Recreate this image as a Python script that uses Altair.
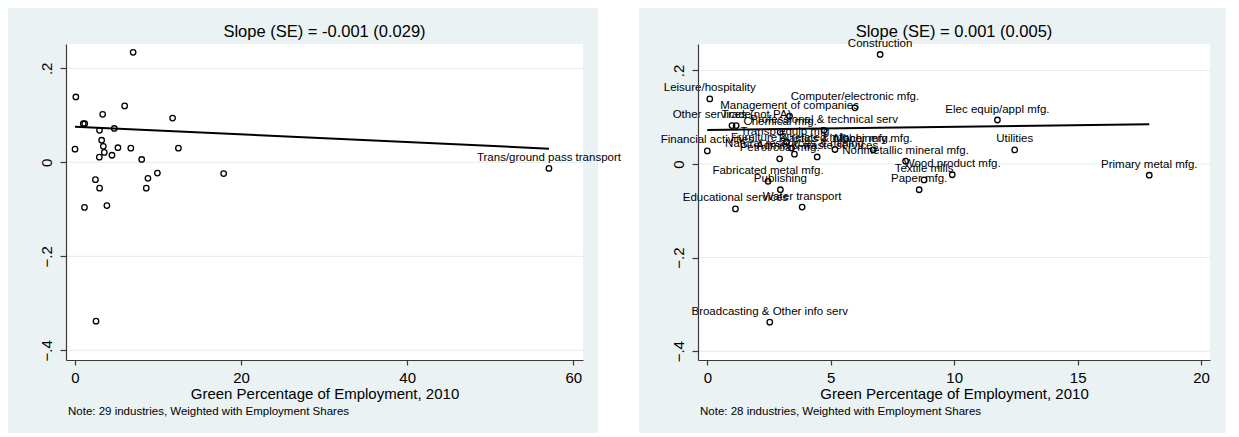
import altair as alt
import pandas as pd

# ---------------- data ----------------
industries = [
    "Construction", "Leisure/hospitality", "Computer/electronic mfg.",
    "Management of companies", "Elec equip/appl mfg.", "Other services (not PA)",
    "Trade", "Professional & technical serv", "Chemical mfg.", "Transp equip mfg.",
    "Furniture & related mfg.", "Financial activities", "Plastics & rubber mfg.",
    "Machinery mfg.", "Utilities", "Natural resources & mining",
    "Admin & waste services", "Petrol/coal mfg.", "Nonmetallic mineral mfg.",
    "Wood product mfg.", "Primary metal mfg.", "Textile mills",
    "Fabricated metal mfg.", "Publishing", "Paper mfg.", "Educational services",
    "Water transport", "Broadcasting & Other info serv",
    "Trans/ground pass transport",
]
green_pct = [
    7.0, 0.1, 5.98, 3.33, 11.75, 1.0, 1.17, 4.73, 2.95, 3.21,
    3.41, 0.0, 5.17, 6.72, 12.45, 3.53, 4.45, 2.93, 8.03, 9.92,
    17.9, 8.78, 2.46, 2.96, 8.58, 1.14, 3.84, 2.53, 57.07,
]
emp_change = [
    0.234, 0.139, 0.120, 0.102, 0.094, 0.082, 0.082, 0.072, 0.068, 0.047,
    0.034, 0.028, 0.031, 0.030, 0.030, 0.021, 0.015, 0.011, 0.006, -0.023,
    -0.024, -0.034, -0.037, -0.055, -0.055, -0.096, -0.092, -0.338, -0.013,
]
left_labelled = ["Trans/ground pass transport"]
right_excluded = ["Trans/ground pass transport"]

left_fit_x = [0.0, 57.07]
left_fit_y = [0.0757, 0.0290]
right_fit_x = [0.0, 17.9]
right_fit_y = [0.0727, 0.0848]

y_ticks = [-0.4, -0.2, 0.0, 0.2]
left_x_ticks = [0, 20, 40, 60]
right_x_ticks = [0, 5, 10, 15, 20]

left_title = "Slope (SE) = -0.001 (0.029)"
right_title = "Slope (SE) = 0.001 (0.005)"
left_note = "Note: 29 industries, Weighted with Employment Shares"
right_note = "Note: 28 industries, Weighted with Employment Shares"
x_title = "Green Percentage of Employment, 2010"

# ---------------- style ----------------
FONT = "Liberation Sans"
BG = "#EAF2F3"
GRID = "#E2ECEE"
AXIS = "#3a3a3a"

full = pd.DataFrame({"industry": industries, "x": green_pct, "y": emp_change})
left_df = full.copy()
left_df["label"] = [n if n in left_labelled else "" for n in industries]
right_df = full[~full["industry"].isin(right_excluded)].copy()
right_df["label"] = right_df["industry"]


def panel(df, fit_x, fit_y, xdom, ydom, W, H, xticks, title, note, rect_x, rect_x2):
    xs = alt.Scale(domain=xdom, nice=False, zero=False)
    ys = alt.Scale(domain=ydom, nice=False, zero=False)
    xaxis = alt.Axis(values=xticks, title=x_title, grid=False, tickSize=5,
                     labelPadding=5, labelFontSize=15, titleFontSize=15,
                     titleFontWeight="normal", labelFont=FONT, titleFont=FONT,
                     labelColor="black", titleColor="black", domainColor=AXIS,
                     tickColor=AXIS, domainWidth=1.2, tickWidth=1.2,
                     titlePadding=1, labelFlush=False, zindex=1)
    yaxis = alt.Axis(values=y_ticks, title=None, grid=False, tickSize=6,
                     labelPadding=21, labelFontSize=15, labelFont=FONT,
                     labelColor="black", labelAngle=270, labelAlign="center",
                     labelBaseline="top", domainColor=AXIS, tickColor=AXIS,
                     domainWidth=1.2, tickWidth=1.2, labelFlush=False,
                     labelExpr="datum.value == 0 ? '0' : replace(format(datum.value, '.1f'), '0.', '.')",
                     zindex=1)
    X = lambda f: alt.X(f, type="quantitative", scale=xs, axis=xaxis)
    Y = lambda f: alt.Y(f, type="quantitative", scale=ys, axis=yaxis)

    one = pd.DataFrame({"k": [0]})
    bg = alt.Chart(one).mark_rect(color=BG).encode(
        x=alt.value(rect_x), x2=alt.value(rect_x2),
        y=alt.value(-36), y2=alt.value(H + 73))
    plot_bg = alt.Chart(one).mark_rect(color="white").encode(
        x=alt.value(0), x2=alt.value(W), y=alt.value(0), y2=alt.value(H))
    grid = alt.Chart(pd.DataFrame({"t": y_ticks})).mark_rule(
        color=GRID, strokeWidth=1).encode(y=Y("t"))
    fit = alt.Chart(pd.DataFrame({"x": fit_x, "y": fit_y})).mark_line(
        color="black", strokeWidth=2).encode(x=X("x"), y=Y("y"))
    pts = alt.Chart(df).mark_point(shape="circle", filled=False, color="black",
                                   size=30, strokeWidth=1.3, opacity=1).encode(
        x=X("x"), y=Y("y"))
    labels = alt.Chart(df).mark_text(font=FONT, fontSize=11.5, color="black",
                                     dy=-10.5, align="center",
                                     baseline="middle").encode(
        x=X("x"), y=Y("y"), text="label:N")
    ttl = alt.Chart(one).mark_text(font=FONT, fontSize=16.5, color="black",
                                   align="center", baseline="alphabetic").encode(
        x=alt.value(W / 2), y=alt.value(-7), text=alt.value(title))
    nt = alt.Chart(one).mark_text(font=FONT, fontSize=11.5, color="black",
                                  align="left", baseline="middle").encode(
        x=alt.value(2), y=alt.value(H + 52), text=alt.value(note))
    return alt.layer(bg, plot_bg, grid, fit, pts, labels, ttl, nt).properties(
        width=W, height=H)


left = panel(left_df, left_fit_x, left_fit_y, [-1.084, 61.17], [-0.4206, 0.2517],
             517, 316, left_x_ticks, left_title, left_note, -58, 532)
right = panel(right_df, right_fit_x, right_fit_y, [-0.377, 20.36], [-0.4188, 0.2564],
              512, 316, right_x_ticks, right_title, right_note, -59, 528)

chart = alt.hconcat(left, right, spacing=115, bounds="flush").properties(
    padding=0, background="white").configure_view(stroke=None)

chart.save("out.html", embed_options={"renderer": "svg", "actions": False})
